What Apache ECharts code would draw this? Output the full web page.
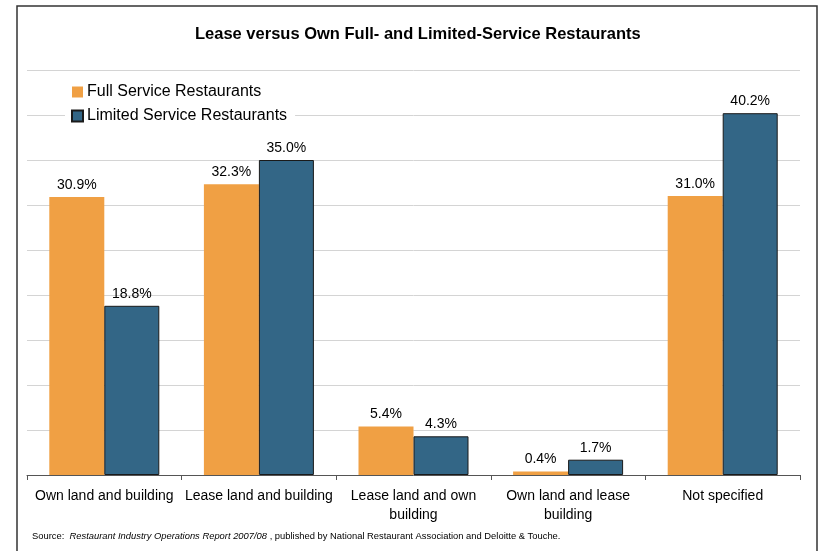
<!DOCTYPE html>
<html lang="en">
<head>
    <meta charset="UTF-8">
    <script src="https://cdn.jsdelivr.net/npm/echarts@6/dist/echarts.min.js"></script>
    <title>Lease versus Own</title>
    <style>
        html, body { margin: 0; padding: 0; background: #fff; }
        #chart { width: 819px; height: 551px; }
    </style>
</head>
<body>
<div id="chart"></div>
<script>
    const categories = ['Own land and building', 'Lease land and building', 'Lease land and own\nbuilding', 'Own land and lease\nbuilding', 'Not specified']
    const fullService = [30.9, 32.3, 5.4, 0.4, 31.0]
    const limitedService = [18.8, 35.0, 4.3, 1.7, 40.2]

    const font = 'Arial, "Liberation Sans", sans-serif'

    function pct(p) {
        return p.value.toFixed(1) + '%'
    }

    var chart = echarts.init(document.getElementById('chart'))
    chart.setOption({
        animation: false,
        title: {
            text: 'Lease versus Own Full- and Limited-Service Restaurants',
            left: 190,
            top: 21,
            textStyle: { fontFamily: font, fontSize: 16.5, fontWeight: 'bold', color: '#000' }
        },
        legend: {
            orient: 'vertical',
            left: 65,
            top: 84,
            padding: [0, 8, 0, 6],
            itemGap: 8,
            itemWidth: 11,
            itemHeight: 11,
            icon: 'rect',
            backgroundColor: '#fff',
            textStyle: { fontFamily: font, fontSize: 16, color: '#000', padding: [0, 0, 0, -1] },
            data: ['Full Service Restaurants', 'Limited Service Restaurants']
        },
        grid: { left: 27, right: 19, top: 70, bottom: 76 },
        xAxis: {
            type: 'category',
            data: categories,
            axisLine: { lineStyle: { color: '#555', width: 1 } },
            axisTick: { show: true, interval: 0, length: 5, lineStyle: { color: '#555' } },
            axisLabel: { interval: 0, fontFamily: font, fontSize: 14, color: '#000', margin: 12, lineHeight: 19 }
        },
        yAxis: {
            type: 'value',
            min: 0,
            max: 45,
            interval: 5,
            axisLabel: { show: false },
            axisLine: { show: false },
            axisTick: { show: false },
            splitLine: { lineStyle: { color: '#d4d4d4', width: 1 } }
        },
        series: [
            {
                name: 'Full Service Restaurants',
                type: 'bar',
                data: fullService,
                barWidth: 55,
                barGap: '0%',
                itemStyle: { color: '#F0A044' },
                label: { show: true, position: 'top', distance: 5, formatter: pct, fontFamily: font, fontSize: 14, color: '#000' }
            },
            {
                name: 'Limited Service Restaurants',
                type: 'bar',
                data: limitedService,
                barWidth: 55,
                barGap: '0%',
                itemStyle: { color: '#336686', borderColor: '#1a1a1a', borderWidth: 1 },
                label: { show: true, position: 'top', distance: 5, formatter: pct, fontFamily: font, fontSize: 14, color: '#000' }
            }
        ],
        graphic: [
            {
                type: 'rect',
                shape: { x: 17, y: 6, width: 800, height: 560 },
                style: { fill: 'none', stroke: '#333', lineWidth: 1.5 },
                silent: true
            },
            {
                type: 'text',
                left: 32,
                top: 532,
                style: {
                    text: '{n|Source:  }{i|Restaurant Industry Operations Report 2007/08}{n| , published by National Restaurant Association and Deloitte & Touche.}',
                    rich: {
                        n: { fontFamily: font, fontSize: 9.4, fill: '#000' },
                        i: { fontFamily: font, fontSize: 9.4, fontStyle: 'italic', fill: '#000' }
                    }
                }
            }
        ]
    })
</script>
</body>
</html>
